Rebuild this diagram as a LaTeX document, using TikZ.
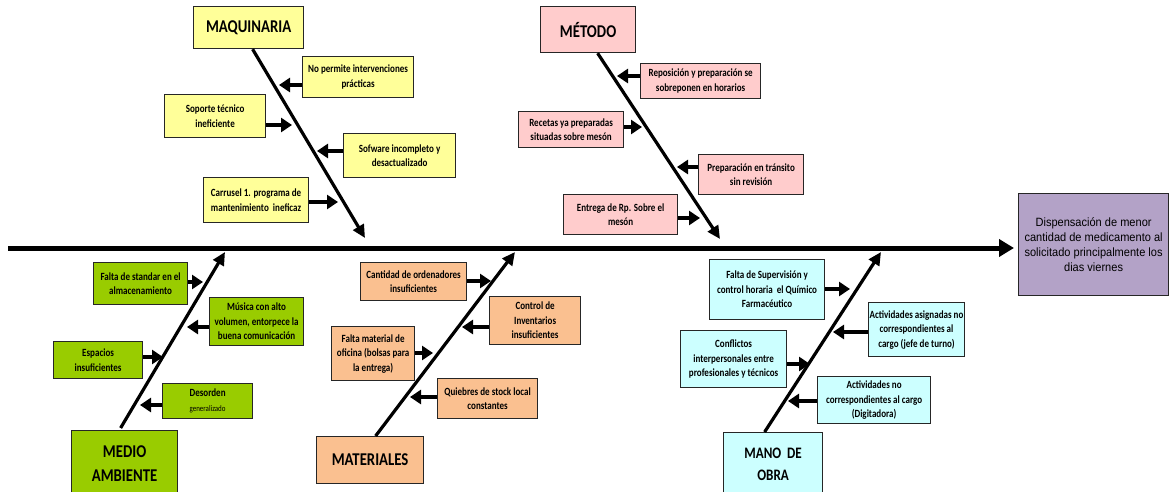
\documentclass[tikz,border=0pt]{standalone}
\usepackage{fontspec}
\setmainfont{Carlito}[FakeStretch=0.82]
\newfontfamily\effectfont{Liberation Sans}[FakeStretch=0.92]
\usetikzlibrary{arrows.meta}

\definecolor{maqfill}{HTML}{FFFF99}
\definecolor{metfill}{HTML}{FFCCCC}
\definecolor{medfill}{HTML}{99CC00}
\definecolor{matfill}{HTML}{FAC090}
\definecolor{manfill}{HTML}{CCFFFF}
\definecolor{efffill}{HTML}{B3A2C7}
\definecolor{edge}{HTML}{262626}

\tikzset{
  box/.style={draw=edge, line width=1.2pt, align=center, inner sep=1pt,
    anchor=north west, font=\fontsize{11}{14.5}\selectfont\bfseries},
  catbox/.style={box, font=\fontsize{18}{24}\selectfont\bfseries},
  effbox/.style={draw=edge, line width=1.2pt, align=center, inner sep=1pt,
    anchor=north west, font=\effectfont\fontsize{12}{15}\selectfont},
  spine/.style={line width=5pt, -{Triangle[length=15pt,width=17pt]}},
  bone/.style={line width=3.2pt, -{Triangle[length=13pt,width=12pt]}},
  cause/.style={line width=4pt, -{Triangle[length=11pt,width=14pt]}},
}

\begin{document}
\begin{tikzpicture}[x=1pt,y=-1pt]
\useasboundingbox (0,0) rectangle (1176,492);

% effect and main spine
\node[effbox, fill=efffill, minimum width=150, minimum height=102] (eff) at (1018,193)
  {Dispensación de menor\\cantidad de medicamento al\\solicitado principalmente los\\dias viernes};
\coordinate (sp0) at (8,248);
\coordinate (sp1) at (1014,248);
\draw[spine] (sp0) -- (sp1);

% category heads
\node[catbox, fill=maqfill, minimum width=110, minimum height=42] (maq) at (193,6) {MAQUINARIA};
\node[catbox, fill=metfill, minimum width=95, minimum height=46] (met) at (540,6) {MÉTODO};
\node[catbox, fill=medfill, minimum width=106, minimum height=65] (med) at (71,430) {MEDIO\\AMBIENTE};
\node[catbox, fill=matfill, minimum width=107, minimum height=47] (mat) at (316,436) {MATERIALES};
\node[catbox, fill=manfill, minimum width=99, minimum height=63,
  font=\fontsize{16}{22}\selectfont\bfseries] (man) at (723,432) {MANO\ \ DE\\OBRA};

% bones
\coordinate (maqtip) at (365,238);
\coordinate (mettip) at (720,239);
\coordinate (medtip) at (225,252);
\coordinate (mattip) at (515,252);
\coordinate (mantip) at (881,252);
\draw[bone] ([xshift=4]maq.south) -- (maqtip);
\draw[bone] ([xshift=9.5]met.south) -- (mettip);
\draw[bone] ([xshift=-4,yshift=2]med.north) -- (medtip);
\draw[bone] ([xshift=5.5]mat.north) -- (mattip);
\draw[bone] ([xshift=-8.5]man.north) -- (mantip);

% MAQUINARIA causes
\node[box, fill=maqfill, minimum width=111, minimum height=41] (q1) at (302,56) {No permite intervenciones\\prácticas};
\node[box, fill=maqfill, minimum width=101, minimum height=43] (q2) at (164,94) {Soporte técnico\\ineficiente};
\node[box, fill=maqfill, minimum width=112, minimum height=44] (q3) at (343,133) {Sofware incompleto y\\desactualizado};
\node[box, fill=maqfill, minimum width=105, minimum height=45] (q4) at (203,177) {Carrusel 1. programa de\\mantenimiento\ \ ineficaz};
\coordinate (qa1) at (279,85);
\coordinate (qa2) at (292,125);
\coordinate (qa3) at (317,151);
\coordinate (qa4) at (338,202);
\draw[cause] (q1.west |- qa1) -- (qa1);
\draw[cause] (q2.east |- qa2) -- (qa2);
\draw[cause] (q3.west |- qa3) -- (qa3);
\draw[cause] (q4.east |- qa4) -- (qa4);

% MÉTODO causes
\node[box, fill=metfill, minimum width=120, minimum height=35] (t1) at (640,63) {Reposición y preparación se\\sobreponen en horarios};
\node[box, fill=metfill, minimum width=105, minimum height=36] (t2) at (518,111) {Recetas ya preparadas\\situadas sobre mesón};
\node[box, fill=metfill, minimum width=105, minimum height=40] (t3) at (698,154) {Preparación en tránsito\\sin revisión};
\node[box, fill=metfill, minimum width=114, minimum height=40] (t4) at (563,194) {Entrega de Rp. Sobre el\\mesón};
\coordinate (ta1) at (617,76);
\coordinate (ta2) at (642,127);
\coordinate (ta3) at (677,167);
\coordinate (ta4) at (700,218);
\draw[cause] (t1.west |- ta1) -- (ta1);
\draw[cause] (t2.east |- ta2) -- (ta2);
\draw[cause] (t3.west |- ta3) -- (ta3);
\draw[cause] (t4.east |- ta4) -- (ta4);

% MEDIO AMBIENTE causes
\node[box, fill=medfill, minimum width=94, minimum height=42] (e1) at (93,262) {Falta de standar en el\\almacenamiento};
\node[box, fill=medfill, minimum width=94, minimum height=48] (e2) at (209,297) {Música con alto\\volumen, entorpece la\\buena comunicación};
\node[box, fill=medfill, minimum width=89, minimum height=37] (e3) at (53,341) {Espacios\\insuficientes};
\node[box, fill=medfill, minimum width=90, minimum height=35] (e4) at (162,383) {Desorden\\{\fontsize{8.5}{12}\selectfont\mdseries generalizado}};
\coordinate (ea1) at (203,282);
\coordinate (ea2) at (187,327);
\coordinate (ea3) at (163,357);
\coordinate (ea4) at (140,405);
\draw[cause] (e1.east |- ea1) -- (ea1);
\draw[cause] (e2.west |- ea2) -- (ea2);
\draw[cause] (e3.east |- ea3) -- (ea3);
\draw[cause] (e4.west |- ea4) -- (ea4);

% MATERIALES causes
\node[box, fill=matfill, minimum width=106, minimum height=38] (r1) at (360,262) {Cantidad de ordenadores\\insuficientes};
\node[box, fill=matfill, minimum width=91, minimum height=48] (r2) at (489,296) {Control de\\Inventarios\\insuficientes};
\node[box, fill=matfill, minimum width=83, minimum height=54] (r3) at (331,326) {Falta material de\\oficina (bolsas para\\la entrega)};
\node[box, fill=matfill, minimum width=100, minimum height=40] (r4) at (437,378) {Quiebres de stock local\\constantes};
\coordinate (ra1) at (491,281);
\coordinate (ra2) at (462,327);
\coordinate (ra3) at (433,353);
\coordinate (ra4) at (410,397);
\draw[cause] (r1.east |- ra1) -- (ra1);
\draw[cause] (r2.west |- ra2) -- (ra2);
\draw[cause] (r3.east |- ra3) -- (ra3);
\draw[cause] (r4.west |- ra4) -- (ra4);

% MANO DE OBRA causes
\node[box, fill=manfill, minimum width=115, minimum height=60] (o1) at (709,259) {Falta de Supervisión y\\control horaria\ \ el Químico\\Farmacéutico};
\node[box, fill=manfill, minimum width=87, minimum height=54] (o2) at (868,302) {Actividades asignadas no\\correspondientes al\\cargo (jefe de turno)};
\node[box, fill=manfill, minimum width=106, minimum height=57] (o3) at (680,330) {Conflictos\\interpersonales entre\\profesionales y técnicos};
\node[box, fill=manfill, minimum width=113, minimum height=47] (o4) at (817,376) {Actividades no\\correspondientes al cargo\\(Digitadora)};
\coordinate (oa1) at (850,289);
\coordinate (oa2) at (833,332);
\coordinate (oa3) at (810,364);
\coordinate (oa4) at (788,401);
\draw[cause] (o1.east |- oa1) -- (oa1);
\draw[cause] (o2.west |- oa2) -- (oa2);
\draw[cause] (o3.east |- oa3) -- (oa3);
\draw[cause] (o4.west |- oa4) -- (oa4);
\end{tikzpicture}
\end{document}
